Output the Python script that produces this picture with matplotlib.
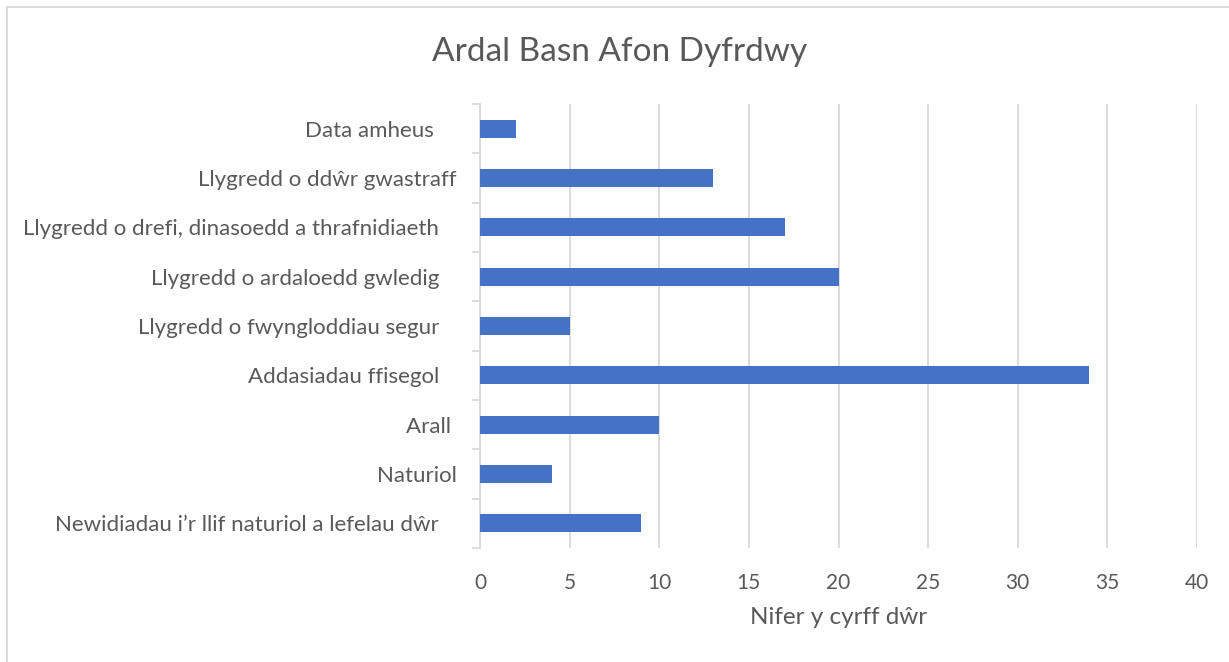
import matplotlib
matplotlib.use("Agg")
import matplotlib.pyplot as plt
from matplotlib.lines import Line2D
import numpy as np

categories = [
    "Data amheus    ",
    "Llygredd o ddŵr gwastraff",
    "Llygredd o drefi, dinasoedd a thrafnidiaeth   ",
    "Llygredd o ardaloedd gwledig   ",
    "Llygredd o fwyngloddiau segur   ",
    "Addasiadau ffisegol   ",
    "Arall ",
    "Naturiol",
    "Newidiadau i’r llif naturiol a lefelau dŵr   ",
]
values = [2, 13, 17, 20, 5, 34, 10, 4, 9]
xticks = [0, 5, 10, 15, 20, 25, 30, 35, 40]
title = "Ardal Basn Afon Dyfrdwy"
xlabel = "Nifer y cyrff dŵr"

plt.rcParams['font.family'] = ['Lato', 'DejaVu Sans']
text_color = "#595959"
grid_color = "#d9d9d9"
bar_color = "#4472c4"

fig = plt.figure(figsize=(12.29, 6.62), dpi=100)
ax = fig.add_axes([480/1229, 1-548/662, (1197-480)/1229, (548-104)/662])

n = len(categories)
y = np.arange(n)[::-1]
ax.barh(y, values, height=0.36, color=bar_color, zorder=3)

ax.set_xlim(0, 40)
ax.set_ylim(-0.5, n - 0.5)
ax.set_xticks(xticks)
ax.set_xticklabels([str(t) for t in xticks], fontsize=15, color=text_color)
ax.set_yticks(y)
ax.set_yticklabels(categories, fontsize=16, color=text_color)
ax.tick_params(axis='y', length=0, pad=17)
ax.tick_params(axis='x', length=0, pad=18)
# minor ticks on category boundaries
ax.set_yticks(np.arange(-0.5, n, 1), minor=True)
ax.tick_params(axis='y', which='minor', length=6, color=grid_color, width=1.3)

ax.grid(axis='x', color=grid_color, linewidth=1.3, zorder=0)
for s in ['top', 'right', 'bottom']:
    ax.spines[s].set_visible(False)
ax.spines['left'].set_color(grid_color)
ax.spines['left'].set_linewidth(1.3)

ax.set_xlabel(xlabel, fontsize=17.5, color=text_color, labelpad=10)
fig.text(620/1229, 1-52/662, title, ha='center', va='center', fontsize=24, color=text_color)

# chart area border
fig.add_artist(Line2D([7/1229, 7/1229], [0, 1-7/662], transform=fig.transFigure, color=grid_color, lw=1.3))
fig.add_artist(Line2D([7/1229, 1], [1-7/662, 1-7/662], transform=fig.transFigure, color=grid_color, lw=1.3))

fig.savefig("out.png", dpi=100)
